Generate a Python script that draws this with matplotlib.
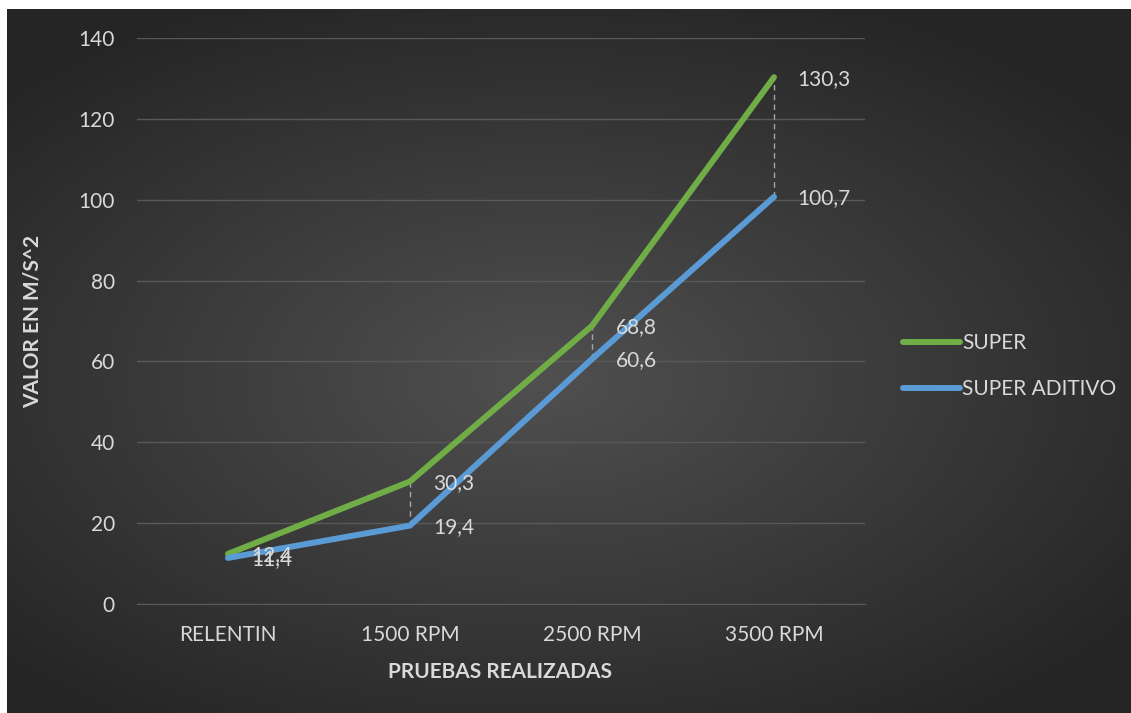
import numpy as np
import matplotlib
matplotlib.use("Agg")
from matplotlib import pyplot as plt

plt.rcParams['font.family'] = ['Lato', 'DejaVu Sans']

categorias = ["RELENTIN", "1500 RPM", "2500 RPM", "3500 RPM"]
super_vals = [12.4, 30.3, 68.8, 130.3]
aditivo_vals = [11.4, 19.4, 60.6, 100.7]
etiquetas_super = ["12,4", "30,3", "68,8", "130,3"]
etiquetas_aditivo = ["11,4", "19,4", "60,6", "100,7"]
yticks = [0, 20, 40, 60, 80, 100, 120, 140]

verde = "#70AD47"
azul = "#5B9BD5"
texto = "#D9D9D9"
fs = 15

W, H = 1131, 713
fig = plt.figure(figsize=(W / 100, H / 100), dpi=100)
fig.patch.set_facecolor("white")

# fondo oscuro con degradado radial
bg = fig.add_axes([7 / W, 0, 1 - 7 / W, (H - 9) / H])
bg.set_axis_off()
gx, gy = np.meshgrid(np.linspace(-1, 1, 400), np.linspace(-1, 1, 260))
r = np.sqrt(((gx + 0.05) / 1.1) ** 2 + ((gy - 0.05) / 1.0) ** 2)
r = np.clip(r, 0, 1.2) / 1.2
inner = np.array([0x50, 0x50, 0x50]) / 255
outer = np.array([0x25, 0x25, 0x25]) / 255
img = inner[None, None, :] * (1 - r[..., None]) + outer[None, None, :] * r[..., None]
bg.imshow(img, aspect="auto", extent=[0, 1, 0, 1])
bg.set_xlim(0, 1)
bg.set_ylim(0, 1)

ax = fig.add_axes([137 / W, (H - 604) / H, 728 / W, 566 / H])
ax.patch.set_alpha(0)
x = np.arange(len(categorias))

ax.set_ylim(0, 140)
ax.set_xlim(-0.5, 3.5)
ax.set_yticks(yticks)
ax.set_xticks(x)
ax.set_xticklabels(categorias)
ax.grid(axis="y", color="#595959", linewidth=1)
ax.set_axisbelow(True)
for s in ax.spines.values():
    s.set_visible(False)
ax.spines["bottom"].set_visible(True)
ax.spines["bottom"].set_color("#595959")
ax.tick_params(length=0, colors=texto, labelsize=fs)
ax.tick_params(axis="x", pad=15)
ax.tick_params(axis="y", pad=16)

# lineas de maximo-minimo
ax.vlines(x, aditivo_vals, super_vals, colors="#A6A6A6", linestyles=(0, (4, 3)), linewidth=1, zorder=2)

ax.plot(x, super_vals, color=verde, linewidth=4.3, solid_capstyle="round", solid_joinstyle="round", label="SUPER", zorder=3)
ax.plot(x, aditivo_vals, color=azul, linewidth=4.3, solid_capstyle="round", solid_joinstyle="round", label="SUPER ADITIVO", zorder=3)

for xi, v, t in zip(x, super_vals, etiquetas_super):
    ax.annotate(t, (xi, v), xytext=(17, -1), textcoords="offset points", va="center", ha="left", color=texto, fontsize=fs)
for xi, v, t in zip(x, aditivo_vals, etiquetas_aditivo):
    ax.annotate(t, (xi, v), xytext=(17, -1), textcoords="offset points", va="center", ha="left", color=texto, fontsize=fs)

ax.set_ylabel("VALOR EN M/S^2", color=texto, fontsize=fs, fontweight="bold", va="center")
ax.yaxis.set_label_coords((33 - 137) / 728, 0.5)
ax.set_xlabel("PRUEBAS REALIZADAS", color=texto, fontsize=fs, fontweight="bold", va="center")
ax.xaxis.set_label_coords((500 - 137) / 728, (604 - 672) / 566)

leg = ax.legend(loc="center left", bbox_to_anchor=(903 / W, (H - 366) / H), bbox_transform=fig.transFigure,
                frameon=False, fontsize=fs, handlelength=2.75, handletextpad=0.1, labelspacing=1.25,
                borderpad=0, borderaxespad=0)
for t in leg.get_texts():
    t.set_color(texto)

fig.savefig("out.png", dpi=100)
